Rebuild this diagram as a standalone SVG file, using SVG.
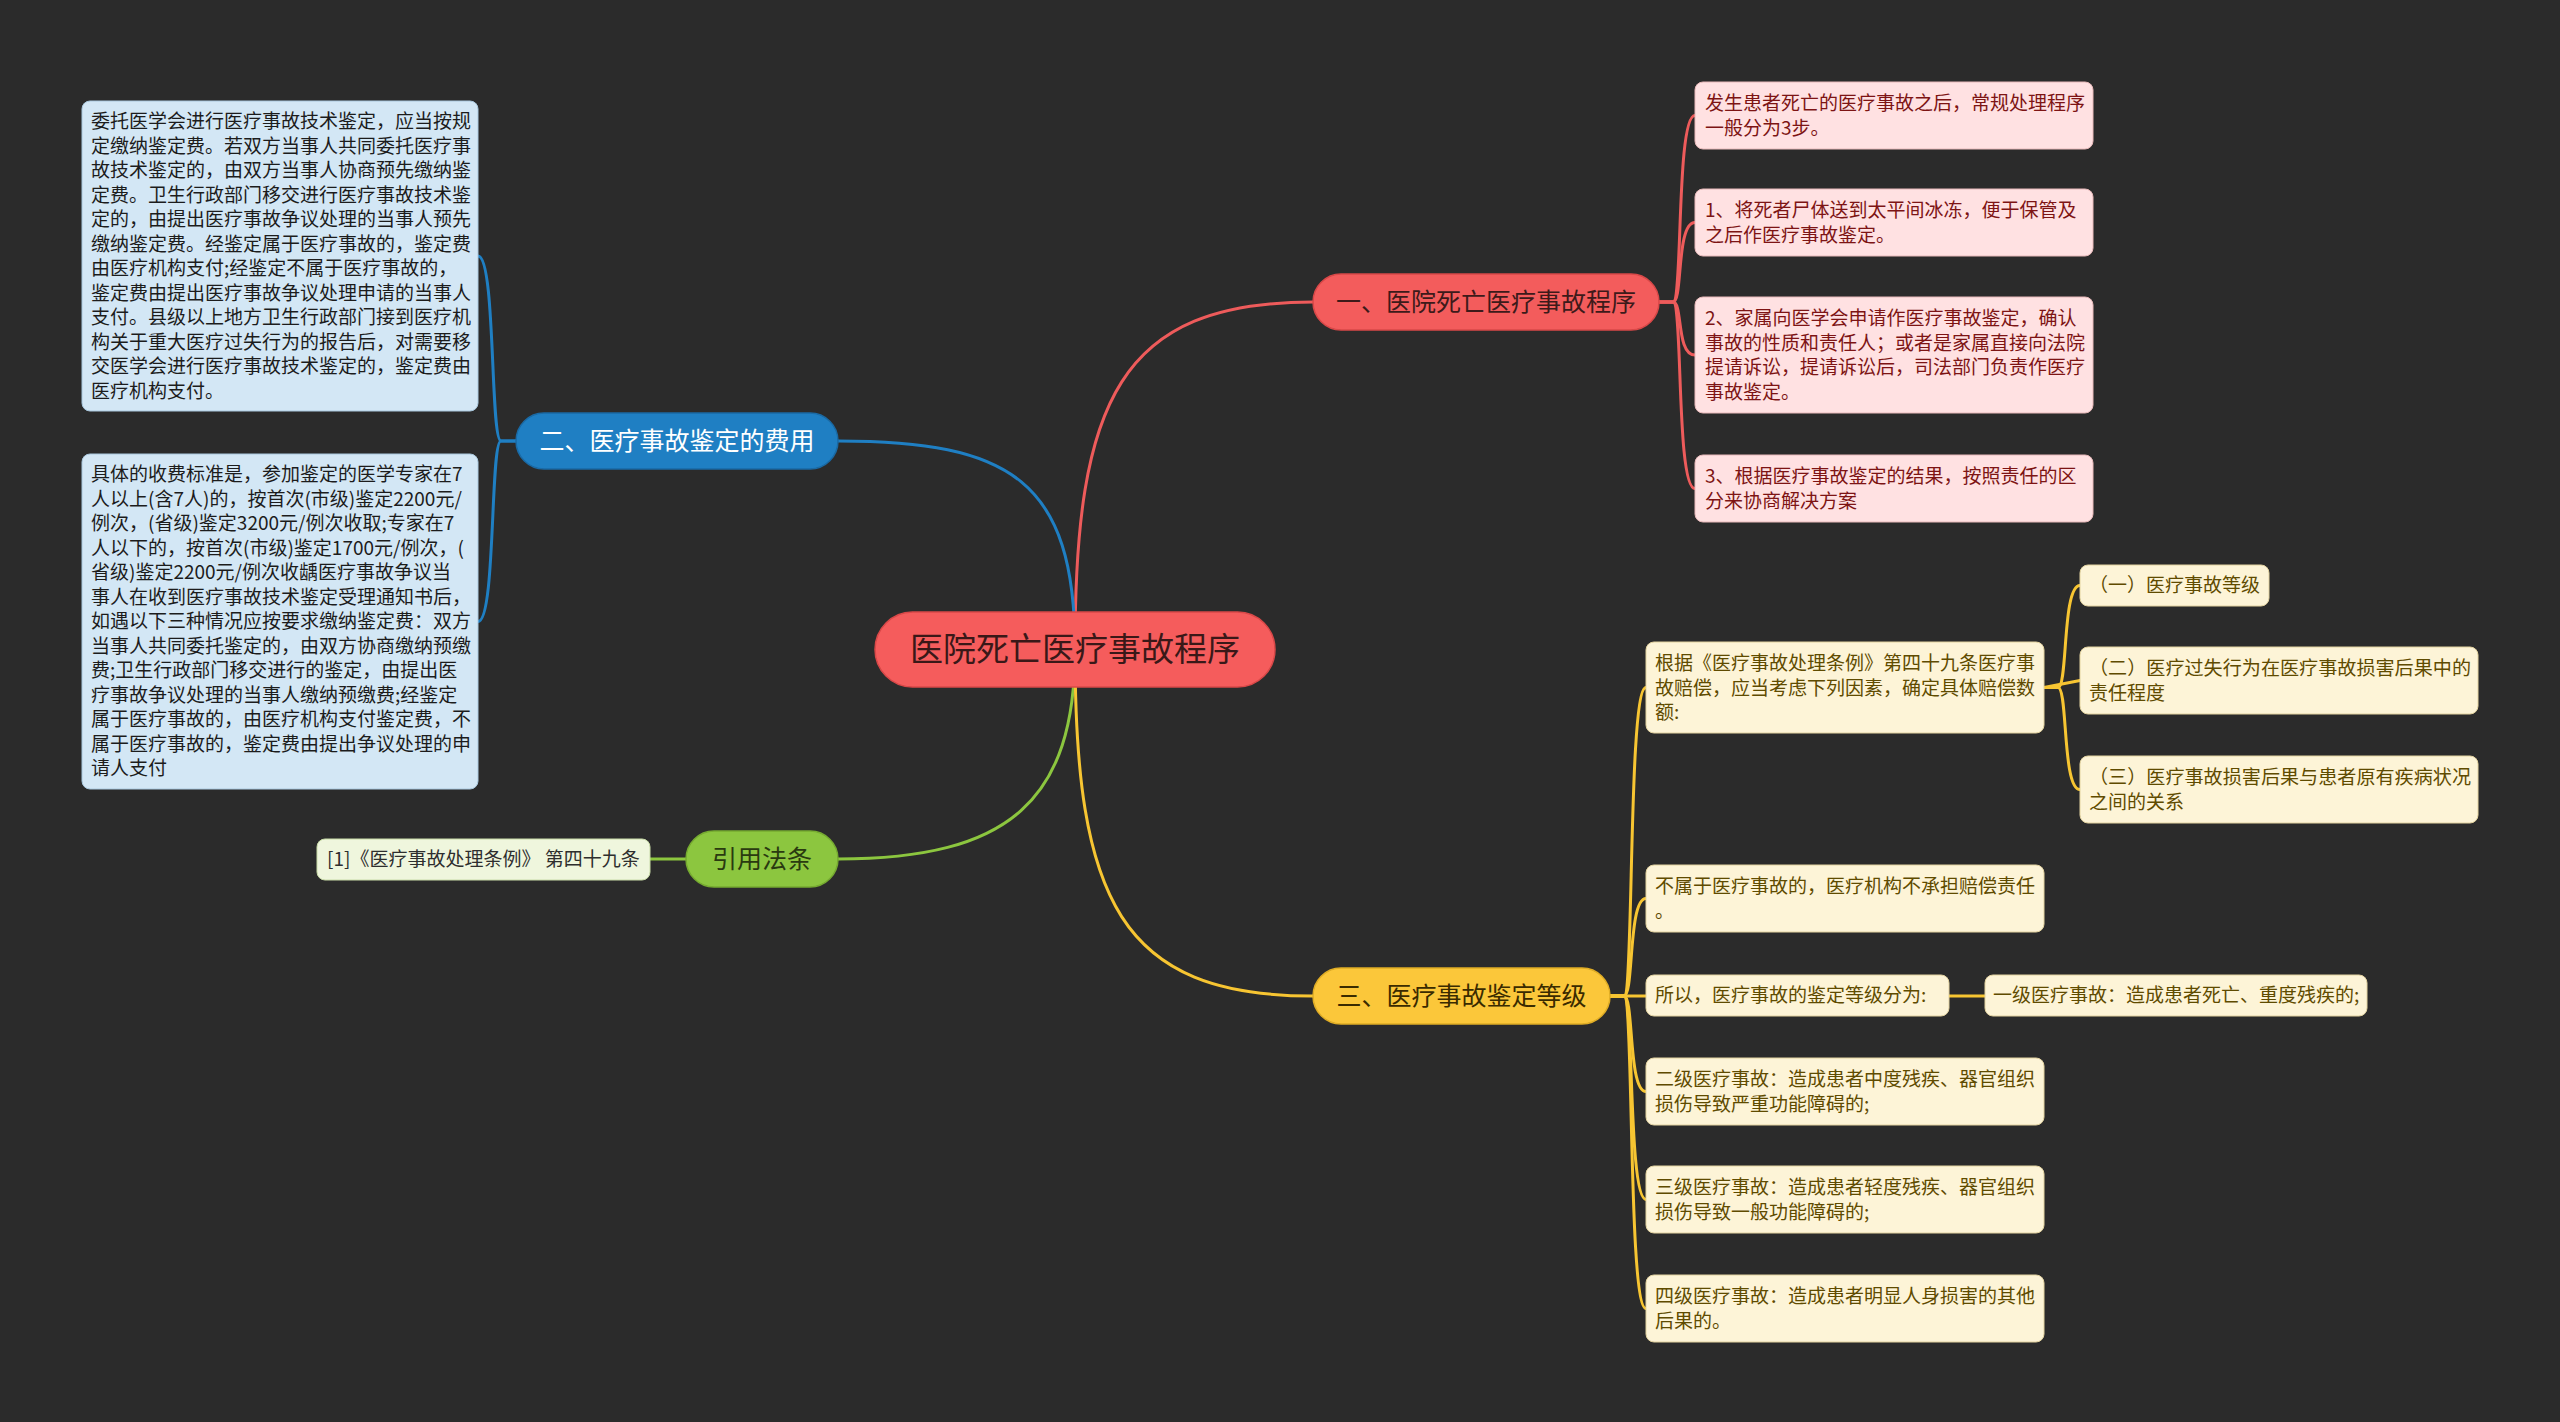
<svg xmlns="http://www.w3.org/2000/svg" width="2560" height="1422" viewBox="0 0 2560 1422">
<style>
text{font-family:"Noto Sans CJK SC","Liberation Sans",sans-serif;}
.c{fill:none;stroke-width:3;stroke-linecap:round}
.cr{stroke:#ee5b5b}.cb{stroke:#1f7fc3}.cg{stroke:#8cc63f}.cy{stroke:#f7c532}
.box{font-size:19px}
.pk rect{fill:#ffe1e2;stroke:#e8b9ba;stroke-width:1}
.pk text{fill:#7d1414}
.bl rect{fill:#d3e7f5;stroke:#a9c8de;stroke-width:1}
.bl text{fill:#1c1c1c}
.gr rect{fill:#eff6dd;stroke:#c9dca8;stroke-width:1}
.gr text{fill:#2e2e2e}
.yl rect{fill:#fdf4d7;stroke:#e3d3a0;stroke-width:1}
.yl text{fill:#5f4b00}
.nd text{font-size:25px;text-anchor:middle}
</style>
<rect width="2560" height="1422" fill="#2b2b2b"/>
<g id="connectors">
<path class="c cr" d="M1075,649 C1075,400 1120,302 1313,302"/>
<path class="c cb" d="M1075,649 C1075,480 1010,441 838,441"/>
<path class="c cg" d="M1075,649 C1075,800 1010,859 838,859"/>
<path class="c cy" d="M1075,649 C1075,900 1120,996 1313,996"/>
<path class="c cr" d="M1659,302 L1673,302 C1683,302 1676,115.5 1695,115.5"/>
<path class="c cr" d="M1659,302 L1673,302 C1683,302 1676,222.5 1695,222.5"/>
<path class="c cr" d="M1659,302 L1673,302 C1683,302 1676,355 1695,355"/>
<path class="c cr" d="M1659,302 L1673,302 C1683,302 1676,488.5 1695,488.5"/>
<path class="c cb" d="M516,441 L501,441 C490,441 496,256 478,256"/>
<path class="c cb" d="M516,441 L501,441 C490,441 496,621.5 478,621.5"/>
<path class="c cg" d="M686,859 L650,859"/>
<path class="c cy" d="M1610,996 L1624,996 C1634,996 1628,687.5 1646,687.5"/>
<path class="c cy" d="M1610,996 L1624,996 C1634,996 1628,898.5 1646,898.5"/>
<path class="c cy" d="M1610,996 L1646,996"/>
<path class="c cy" d="M1610,996 L1624,996 C1634,996 1628,1091.5 1646,1091.5"/>
<path class="c cy" d="M1610,996 L1624,996 C1634,996 1628,1199.5 1646,1199.5"/>
<path class="c cy" d="M1610,996 L1624,996 C1634,996 1628,1308.5 1646,1308.5"/>
<path class="c cy" d="M2044,687.5 L2058,687.5 C2068,687.5 2062,585.5 2080,585.5"/>
<path class="c cy" d="M2044,687.5 L2080,680.5"/>
<path class="c cy" d="M2044,687.5 L2058,687.5 C2068,687.5 2062,789.5 2080,789.5"/>
<path class="c cy" d="M1949,996 L1985,996"/>
</g>
<g id="root" class="nd">
<rect x="875" y="612" width="400" height="75" rx="37.5" fill="#f55c5c" stroke="#d94848" stroke-width="1.5"/>
<text x="1075" y="660.5" style="font-size:33px" fill="#3a1818">医院死亡医疗事故程序</text>
</g>
<g id="n1" class="nd">
<rect x="1313" y="274" width="346" height="56" rx="28" fill="#f35c5c" stroke="#d94848" stroke-width="1.5"/>
<text x="1486" y="311" fill="#3d1a1a">一、医院死亡医疗事故程序</text>
</g>
<g id="n2" class="nd">
<rect x="516" y="413" width="322" height="56" rx="28" fill="#1f7fc3" stroke="#1a6aa5" stroke-width="1.5"/>
<text x="677" y="450" fill="#ffffff">二、医疗事故鉴定的费用</text>
</g>
<g id="n3" class="nd">
<rect x="686" y="831" width="152" height="56" rx="28" fill="#8cc63f" stroke="#76ab30" stroke-width="1.5"/>
<text x="762" y="868" fill="#2a3a10">引用法条</text>
</g>
<g id="n4" class="nd">
<rect x="1313" y="968" width="297" height="56" rx="28" fill="#fbc73a" stroke="#e0ad25" stroke-width="1.5"/>
<text x="1461.5" y="1005" fill="#3a2b00">三、医疗事故鉴定等级</text>
</g>
<g id="p0" class="pk box">
<rect x="1695" y="82" width="398" height="67" rx="8"/>
<text x="1705" y="110">发生患者死亡的医疗事故之后，常规处理程序</text>
<text x="1705" y="134.5">一般分为3步。</text>
</g>
<g id="p1" class="pk box">
<rect x="1695" y="189" width="398" height="67" rx="8"/>
<text x="1705" y="217">1、将死者尸体送到太平间冰冻，便于保管及</text>
<text x="1705" y="241.5">之后作医疗事故鉴定。</text>
</g>
<g id="p2" class="pk box">
<rect x="1695" y="297" width="398" height="116" rx="8"/>
<text x="1705" y="325">2、家属向医学会申请作医疗事故鉴定，确认</text>
<text x="1705" y="349.5">事故的性质和责任人；或者是家属直接向法院</text>
<text x="1705" y="374">提请诉讼，提请诉讼后，司法部门负责作医疗</text>
<text x="1705" y="398.5">事故鉴定。</text>
</g>
<g id="p3" class="pk box">
<rect x="1695" y="455" width="398" height="67" rx="8"/>
<text x="1705" y="483">3、根据医疗事故鉴定的结果，按照责任的区</text>
<text x="1705" y="507.5">分来协商解决方案</text>
</g>
<g id="b1" class="bl box">
<rect x="82" y="101" width="396" height="310" rx="8"/>
<text x="91" y="128">委托医学会进行医疗事故技术鉴定，应当按规</text>
<text x="91" y="152.5">定缴纳鉴定费。若双方当事人共同委托医疗事</text>
<text x="91" y="177">故技术鉴定的，由双方当事人协商预先缴纳鉴</text>
<text x="91" y="201.5">定费。卫生行政部门移交进行医疗事故技术鉴</text>
<text x="91" y="226">定的，由提出医疗事故争议处理的当事人预先</text>
<text x="91" y="250.5">缴纳鉴定费。经鉴定属于医疗事故的，鉴定费</text>
<text x="91" y="275">由医疗机构支付;经鉴定不属于医疗事故的，</text>
<text x="91" y="299.5">鉴定费由提出医疗事故争议处理申请的当事人</text>
<text x="91" y="324">支付。县级以上地方卫生行政部门接到医疗机</text>
<text x="91" y="348.5">构关于重大医疗过失行为的报告后，对需要移</text>
<text x="91" y="373">交医学会进行医疗事故技术鉴定的，鉴定费由</text>
<text x="91" y="397.5">医疗机构支付。</text>
</g>
<g id="b2" class="bl box">
<rect x="82" y="454" width="396" height="335" rx="8"/>
<text x="91" y="481">具体的收费标准是，参加鉴定的医学专家在7</text>
<text x="91" y="505.5">人以上(含7人)的，按首次(市级)鉴定2200元/</text>
<text x="91" y="530">例次，(省级)鉴定3200元/例次收取;专家在7</text>
<text x="91" y="554.5">人以下的，按首次(市级)鉴定1700元/例次，(</text>
<text x="91" y="579">省级)鉴定2200元/例次收龋医疗事故争议当</text>
<text x="91" y="603.5">事人在收到医疗事故技术鉴定受理通知书后，</text>
<text x="91" y="628">如遇以下三种情况应按要求缴纳鉴定费：双方</text>
<text x="91" y="652.5">当事人共同委托鉴定的，由双方协商缴纳预缴</text>
<text x="91" y="677">费;卫生行政部门移交进行的鉴定，由提出医</text>
<text x="91" y="701.5">疗事故争议处理的当事人缴纳预缴费;经鉴定</text>
<text x="91" y="726">属于医疗事故的，由医疗机构支付鉴定费，不</text>
<text x="91" y="750.5">属于医疗事故的，鉴定费由提出争议处理的申</text>
<text x="91" y="775">请人支付</text>
</g>
<g id="g1" class="gr box">
<rect x="317" y="839" width="333" height="41" rx="8"/>
<text x="327" y="866">[1]《医疗事故处理条例》 第四十九条</text>
</g>
<g id="y1" class="yl box">
<rect x="1646" y="642" width="398" height="91" rx="8"/>
<text x="1655" y="670">根据《医疗事故处理条例》第四十九条医疗事</text>
<text x="1655" y="694.5">故赔偿，应当考虑下列因素，确定具体赔偿数</text>
<text x="1655" y="719">额:</text>
</g>
<g id="y1a" class="yl box">
<rect x="2080" y="565" width="189" height="41" rx="8"/>
<text x="2089" y="592">（一）医疗事故等级</text>
</g>
<g id="y1b" class="yl box">
<rect x="2080" y="647" width="398" height="67" rx="8"/>
<text x="2089" y="675" textLength="382" lengthAdjust="spacingAndGlyphs">（二）医疗过失行为在医疗事故损害后果中的</text>
<text x="2089" y="699.5">责任程度</text>
</g>
<g id="y1c" class="yl box">
<rect x="2080" y="756" width="398" height="67" rx="8"/>
<text x="2089" y="784" textLength="382" lengthAdjust="spacingAndGlyphs">（三）医疗事故损害后果与患者原有疾病状况</text>
<text x="2089" y="808.5">之间的关系</text>
</g>
<g id="y2" class="yl box">
<rect x="1646" y="865" width="398" height="67" rx="8"/>
<text x="1655" y="893">不属于医疗事故的，医疗机构不承担赔偿责任</text>
<text x="1655" y="917.5">。</text>
</g>
<g id="y3" class="yl box">
<rect x="1646" y="975" width="303" height="41" rx="8"/>
<text x="1655" y="1002">所以，医疗事故的鉴定等级分为:</text>
</g>
<g id="y3a" class="yl box">
<rect x="1985" y="975" width="382" height="41" rx="8"/>
<text x="1993" y="1002">一级医疗事故：造成患者死亡、重度残疾的;</text>
</g>
<g id="y4" class="yl box">
<rect x="1646" y="1058" width="398" height="67" rx="8"/>
<text x="1655" y="1086">二级医疗事故：造成患者中度残疾、器官组织</text>
<text x="1655" y="1110.5">损伤导致严重功能障碍的;</text>
</g>
<g id="y5" class="yl box">
<rect x="1646" y="1166" width="398" height="67" rx="8"/>
<text x="1655" y="1194">三级医疗事故：造成患者轻度残疾、器官组织</text>
<text x="1655" y="1218.5">损伤导致一般功能障碍的;</text>
</g>
<g id="y6" class="yl box">
<rect x="1646" y="1275" width="398" height="67" rx="8"/>
<text x="1655" y="1303">四级医疗事故：造成患者明显人身损害的其他</text>
<text x="1655" y="1327.5">后果的。</text>
</g>
</svg>
